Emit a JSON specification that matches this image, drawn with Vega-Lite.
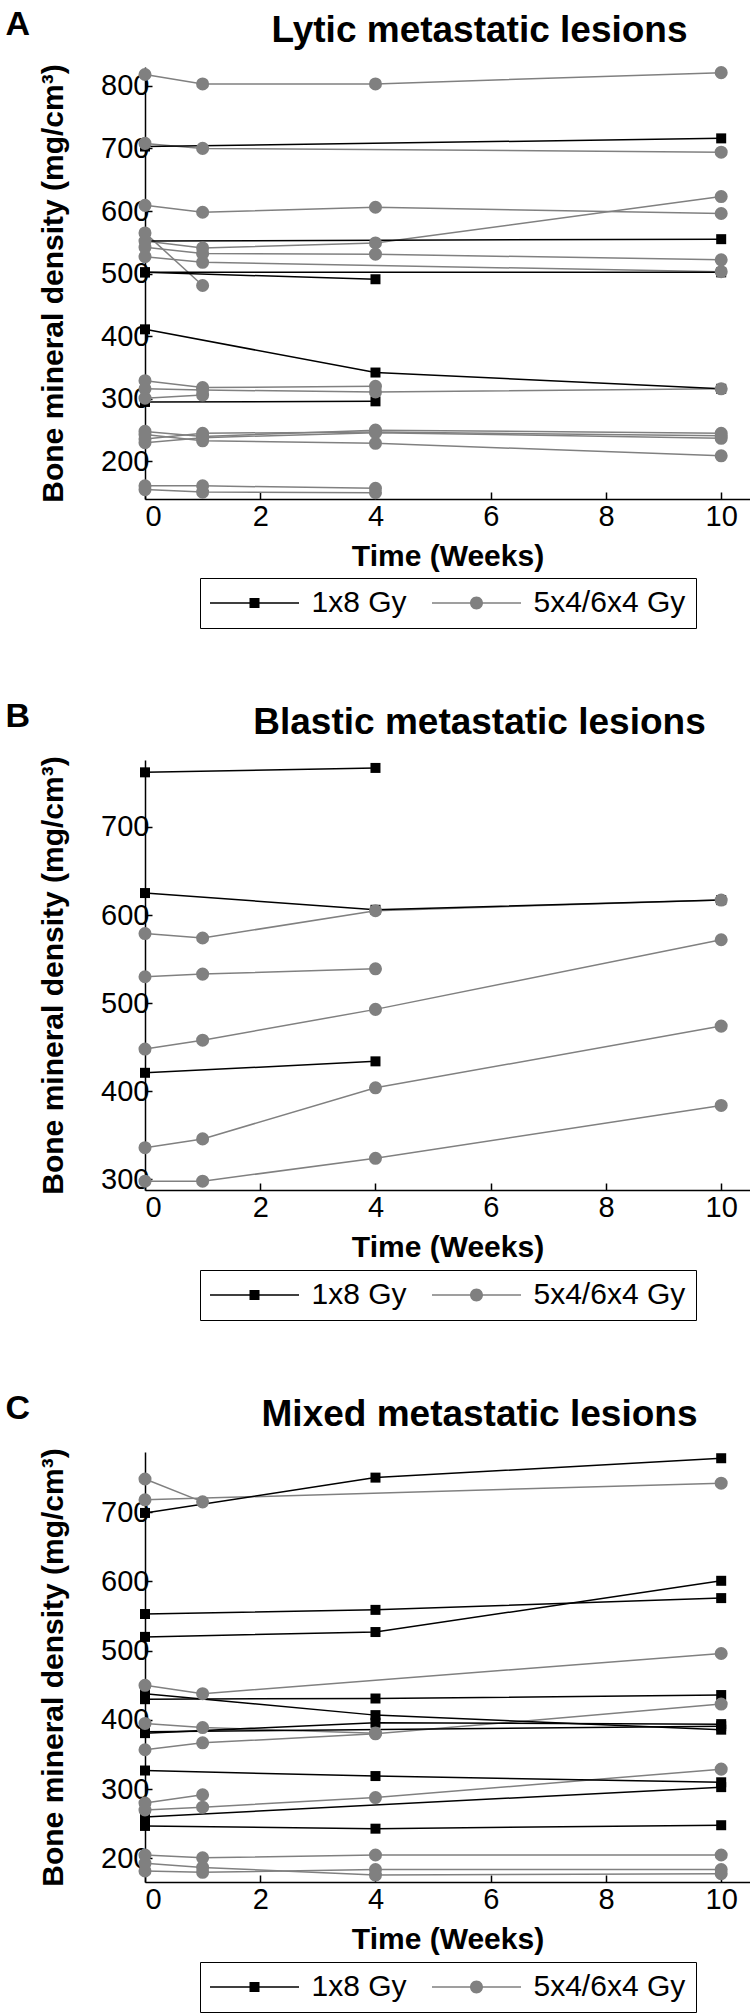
{
  "$schema": "https://vega.github.io/schema/vega-lite/v6.json",
  "padding": {"left": 5, "top": 7, "right": 0, "bottom": 0},
  "background": "white",
  "datasets": {
    "lytic": [
      {"id":"A2","g":"1x8 Gy","t":0,"v":703},{"id":"A2","g":"1x8 Gy","t":10,"v":716},
      {"id":"A9","g":"1x8 Gy","t":0,"v":552},{"id":"A9","g":"1x8 Gy","t":10,"v":555},
      {"id":"A10","g":"1x8 Gy","t":0,"v":502},{"id":"A10","g":"1x8 Gy","t":4,"v":491},
      {"id":"A11","g":"1x8 Gy","t":0,"v":502},{"id":"A11","g":"1x8 Gy","t":10,"v":502},
      {"id":"A12","g":"1x8 Gy","t":0,"v":411},{"id":"A12","g":"1x8 Gy","t":4,"v":342},{"id":"A12","g":"1x8 Gy","t":10,"v":316},
      {"id":"A16","g":"1x8 Gy","t":0,"v":295},{"id":"A16","g":"1x8 Gy","t":4,"v":296},
      {"id":"A1","g":"5x4/6x4 Gy","t":0,"v":818},{"id":"A1","g":"5x4/6x4 Gy","t":1,"v":803},{"id":"A1","g":"5x4/6x4 Gy","t":4,"v":803},{"id":"A1","g":"5x4/6x4 Gy","t":10,"v":821},
      {"id":"A3","g":"5x4/6x4 Gy","t":0,"v":708},{"id":"A3","g":"5x4/6x4 Gy","t":1,"v":700},{"id":"A3","g":"5x4/6x4 Gy","t":10,"v":694},
      {"id":"A4","g":"5x4/6x4 Gy","t":0,"v":609},{"id":"A4","g":"5x4/6x4 Gy","t":1,"v":598},{"id":"A4","g":"5x4/6x4 Gy","t":4,"v":606},{"id":"A4","g":"5x4/6x4 Gy","t":10,"v":596},
      {"id":"A5","g":"5x4/6x4 Gy","t":0,"v":565},{"id":"A5","g":"5x4/6x4 Gy","t":1,"v":481},
      {"id":"A6","g":"5x4/6x4 Gy","t":0,"v":552},{"id":"A6","g":"5x4/6x4 Gy","t":1,"v":541},{"id":"A6","g":"5x4/6x4 Gy","t":4,"v":549},{"id":"A6","g":"5x4/6x4 Gy","t":10,"v":623},
      {"id":"A7","g":"5x4/6x4 Gy","t":0,"v":542},{"id":"A7","g":"5x4/6x4 Gy","t":1,"v":532},{"id":"A7","g":"5x4/6x4 Gy","t":4,"v":531},{"id":"A7","g":"5x4/6x4 Gy","t":10,"v":522},
      {"id":"A8","g":"5x4/6x4 Gy","t":0,"v":527},{"id":"A8","g":"5x4/6x4 Gy","t":1,"v":518},{"id":"A8","g":"5x4/6x4 Gy","t":10,"v":503},
      {"id":"A13","g":"5x4/6x4 Gy","t":0,"v":329},{"id":"A13","g":"5x4/6x4 Gy","t":1,"v":318},{"id":"A13","g":"5x4/6x4 Gy","t":4,"v":320},
      {"id":"A14","g":"5x4/6x4 Gy","t":0,"v":316},{"id":"A14","g":"5x4/6x4 Gy","t":1,"v":314},{"id":"A14","g":"5x4/6x4 Gy","t":4,"v":311},{"id":"A14","g":"5x4/6x4 Gy","t":10,"v":316},
      {"id":"A15","g":"5x4/6x4 Gy","t":0,"v":301},{"id":"A15","g":"5x4/6x4 Gy","t":1,"v":306},
      {"id":"A17","g":"5x4/6x4 Gy","t":0,"v":248},{"id":"A17","g":"5x4/6x4 Gy","t":1,"v":240},{"id":"A17","g":"5x4/6x4 Gy","t":4,"v":250},{"id":"A17","g":"5x4/6x4 Gy","t":10,"v":245},
      {"id":"A18","g":"5x4/6x4 Gy","t":0,"v":236},{"id":"A18","g":"5x4/6x4 Gy","t":1,"v":245},{"id":"A18","g":"5x4/6x4 Gy","t":4,"v":247},{"id":"A18","g":"5x4/6x4 Gy","t":10,"v":241},
      {"id":"A19","g":"5x4/6x4 Gy","t":0,"v":230},{"id":"A19","g":"5x4/6x4 Gy","t":1,"v":238},{"id":"A19","g":"5x4/6x4 Gy","t":4,"v":246},{"id":"A19","g":"5x4/6x4 Gy","t":10,"v":237},
      {"id":"A20","g":"5x4/6x4 Gy","t":0,"v":243},{"id":"A20","g":"5x4/6x4 Gy","t":1,"v":233},{"id":"A20","g":"5x4/6x4 Gy","t":4,"v":229},{"id":"A20","g":"5x4/6x4 Gy","t":10,"v":209},
      {"id":"A21","g":"5x4/6x4 Gy","t":0,"v":161},{"id":"A21","g":"5x4/6x4 Gy","t":1,"v":161},{"id":"A21","g":"5x4/6x4 Gy","t":4,"v":157},
      {"id":"A22","g":"5x4/6x4 Gy","t":0,"v":155},{"id":"A22","g":"5x4/6x4 Gy","t":1,"v":151},{"id":"A22","g":"5x4/6x4 Gy","t":4,"v":150}
    ],
    "blastic": [
      {"id":"B1","g":"1x8 Gy","t":0,"v":762},{"id":"B1","g":"1x8 Gy","t":4,"v":767},
      {"id":"B2","g":"1x8 Gy","t":0,"v":625},{"id":"B2","g":"1x8 Gy","t":4,"v":606},{"id":"B2","g":"1x8 Gy","t":10,"v":617},
      {"id":"B6","g":"1x8 Gy","t":0,"v":421},{"id":"B6","g":"1x8 Gy","t":4,"v":434},
      {"id":"B3","g":"5x4/6x4 Gy","t":0,"v":579},{"id":"B3","g":"5x4/6x4 Gy","t":1,"v":574},{"id":"B3","g":"5x4/6x4 Gy","t":4,"v":605},{"id":"B3","g":"5x4/6x4 Gy","t":10,"v":617},
      {"id":"B4","g":"5x4/6x4 Gy","t":0,"v":530},{"id":"B4","g":"5x4/6x4 Gy","t":1,"v":533},{"id":"B4","g":"5x4/6x4 Gy","t":4,"v":539},
      {"id":"B5","g":"5x4/6x4 Gy","t":0,"v":448},{"id":"B5","g":"5x4/6x4 Gy","t":1,"v":458},{"id":"B5","g":"5x4/6x4 Gy","t":4,"v":493},{"id":"B5","g":"5x4/6x4 Gy","t":10,"v":572},
      {"id":"B7","g":"5x4/6x4 Gy","t":0,"v":336},{"id":"B7","g":"5x4/6x4 Gy","t":1,"v":346},{"id":"B7","g":"5x4/6x4 Gy","t":4,"v":404},{"id":"B7","g":"5x4/6x4 Gy","t":10,"v":474},
      {"id":"B8","g":"5x4/6x4 Gy","t":0,"v":298},{"id":"B8","g":"5x4/6x4 Gy","t":1,"v":298},{"id":"B8","g":"5x4/6x4 Gy","t":4,"v":324},{"id":"B8","g":"5x4/6x4 Gy","t":10,"v":384}
    ],
    "mixed": [
      {"id":"C1","g":"1x8 Gy","t":0,"v":699},{"id":"C1","g":"1x8 Gy","t":4,"v":750},{"id":"C1","g":"1x8 Gy","t":10,"v":778},
      {"id":"C4","g":"1x8 Gy","t":0,"v":553},{"id":"C4","g":"1x8 Gy","t":4,"v":559},{"id":"C4","g":"1x8 Gy","t":10,"v":576},
      {"id":"C5","g":"1x8 Gy","t":0,"v":520},{"id":"C5","g":"1x8 Gy","t":4,"v":527},{"id":"C5","g":"1x8 Gy","t":10,"v":601},
      {"id":"C7","g":"1x8 Gy","t":0,"v":438},{"id":"C7","g":"1x8 Gy","t":4,"v":407},{"id":"C7","g":"1x8 Gy","t":10,"v":386},
      {"id":"C8","g":"1x8 Gy","t":0,"v":430},{"id":"C8","g":"1x8 Gy","t":4,"v":431},{"id":"C8","g":"1x8 Gy","t":10,"v":436},
      {"id":"C9","g":"1x8 Gy","t":0,"v":381},{"id":"C9","g":"1x8 Gy","t":4,"v":396},{"id":"C9","g":"1x8 Gy","t":10,"v":394},
      {"id":"C10","g":"1x8 Gy","t":0,"v":383},{"id":"C10","g":"1x8 Gy","t":10,"v":391},
      {"id":"C13","g":"1x8 Gy","t":0,"v":327},{"id":"C13","g":"1x8 Gy","t":4,"v":319},{"id":"C13","g":"1x8 Gy","t":10,"v":310},
      {"id":"C14","g":"1x8 Gy","t":0,"v":260},{"id":"C14","g":"1x8 Gy","t":10,"v":303},
      {"id":"C15","g":"1x8 Gy","t":0,"v":247},{"id":"C15","g":"1x8 Gy","t":4,"v":243},{"id":"C15","g":"1x8 Gy","t":10,"v":248},
      {"id":"C2","g":"5x4/6x4 Gy","t":0,"v":748},{"id":"C2","g":"5x4/6x4 Gy","t":1,"v":715},
      {"id":"C3","g":"5x4/6x4 Gy","t":0,"v":718},{"id":"C3","g":"5x4/6x4 Gy","t":10,"v":742},
      {"id":"C6","g":"5x4/6x4 Gy","t":0,"v":450},{"id":"C6","g":"5x4/6x4 Gy","t":1,"v":438},{"id":"C6","g":"5x4/6x4 Gy","t":10,"v":496},
      {"id":"C11","g":"5x4/6x4 Gy","t":0,"v":395},{"id":"C11","g":"5x4/6x4 Gy","t":1,"v":389},{"id":"C11","g":"5x4/6x4 Gy","t":4,"v":381},
      {"id":"C12","g":"5x4/6x4 Gy","t":0,"v":357},{"id":"C12","g":"5x4/6x4 Gy","t":1,"v":367},{"id":"C12","g":"5x4/6x4 Gy","t":4,"v":380},{"id":"C12","g":"5x4/6x4 Gy","t":10,"v":423},
      {"id":"C16","g":"5x4/6x4 Gy","t":0,"v":280},{"id":"C16","g":"5x4/6x4 Gy","t":1,"v":292},
      {"id":"C17","g":"5x4/6x4 Gy","t":0,"v":270},{"id":"C17","g":"5x4/6x4 Gy","t":1,"v":274},{"id":"C17","g":"5x4/6x4 Gy","t":4,"v":288},{"id":"C17","g":"5x4/6x4 Gy","t":10,"v":329},
      {"id":"C18","g":"5x4/6x4 Gy","t":0,"v":205},{"id":"C18","g":"5x4/6x4 Gy","t":1,"v":201},{"id":"C18","g":"5x4/6x4 Gy","t":4,"v":205},{"id":"C18","g":"5x4/6x4 Gy","t":10,"v":205},
      {"id":"C19","g":"5x4/6x4 Gy","t":0,"v":193},{"id":"C19","g":"5x4/6x4 Gy","t":1,"v":187},{"id":"C19","g":"5x4/6x4 Gy","t":4,"v":176},{"id":"C19","g":"5x4/6x4 Gy","t":10,"v":178},
      {"id":"C20","g":"5x4/6x4 Gy","t":0,"v":182},{"id":"C20","g":"5x4/6x4 Gy","t":1,"v":180},{"id":"C20","g":"5x4/6x4 Gy","t":4,"v":184},{"id":"C20","g":"5x4/6x4 Gy","t":10,"v":184}
    ]
  },
  "spacing": 70,
  "resolve": {"scale": {"x": "independent", "y": "independent", "color": "independent", "shape": "independent"}, "legend": {"color": "independent"}},
  "vconcat": [
    {
      "title": {"text": "A", "anchor": "start", "frame": "bounds", "fontSize": 34, "fontWeight": "bold", "font": "Liberation Sans", "color": "black", "offset": -30, "dx": -33},
      "vconcat": [
        {
          "width": 605, "height": 432,
          "title": {"text": "Lytic metastatic lesions", "fontSize": 37, "fontWeight": "bold", "font": "Liberation Sans", "color": "black", "dx": 32, "offset": 14},
          "data": {"name": "lytic"},
          "encoding": {
            "x": {"field": "t", "type": "quantitative", "scale": {"domain": [0, 10.5], "nice": false}, "axis": {"values": [0, 2, 4, 6, 8, 10], "title": "Time (Weeks)"}},
            "y": {"field": "v", "type": "quantitative", "scale": {"domain": [140, 830], "nice": false, "zero": false}, "axis": {"values": [200, 300, 400, 500, 600, 700, 800], "title": "Bone mineral density (mg/cm³)"}}
          },
          "layer": [
            {"transform": [{"filter": "datum.g !== '1x8 Gy'"}], "mark": {"type": "line", "strokeWidth": 1.5, "color": "#808080"}, "encoding": {"detail": {"field": "id"}}},
            {"transform": [{"filter": "datum.g === '1x8 Gy'"}], "mark": {"type": "line", "strokeWidth": 1.5, "color": "#000000"}, "encoding": {"detail": {"field": "id"}}},
            {"transform": [{"filter": "datum.g === '1x8 Gy'"}], "mark": {"type": "point", "shape": "square", "size": 100, "filled": true, "opacity": 1, "color": "#000000"}},
            {"transform": [{"filter": "datum.g !== '1x8 Gy'"}], "mark": {"type": "point", "shape": "circle", "size": 170, "filled": true, "opacity": 1, "color": "#808080"}},
            {"mark": {"type": "point", "filled": true, "opacity": 0}, "encoding": {
              "color": {"field": "g", "type": "nominal", "scale": {"domain": ["1x8 Gy", "5x4/6x4 Gy"], "range": ["#000000", "#808080"]}, "legend": {"orient": "none", "legendX": 55, "legendY": 511, "direction": "horizontal", "title": null, "strokeColor": "black", "fillColor": "white", "padding": 10, "symbolSize": 400, "symbolStrokeWidth": 0, "symbolOffset": 29.5, "labelOffset": 42, "labelFont": "Liberation Sans", "labelFontSize": 30, "labelColor": "black", "columnPadding": 25, "symbolOpacity": 1}},
              "shape": {"field": "g", "type": "nominal", "scale": {"domain": ["1x8 Gy", "5x4/6x4 Gy"], "range": ["M-4.45,-0.075H4.45V0.075H-4.45ZM-0.5,-0.5H0.5V0.5H-0.5Z", "M-4.45,-0.075H4.45V0.075H-4.45ZM0.65,0A0.65,0.65,0,1,1,-0.65,0A0.65,0.65,0,1,1,0.65,0Z"]}, "legend": null}}}
          ]
        }
      ]
    },
    {
      "title": {"text": "B", "anchor": "start", "frame": "bounds", "fontSize": 34, "fontWeight": "bold", "font": "Liberation Sans", "color": "black", "offset": -30, "dx": -33},
      "vconcat": [
        {
          "width": 605, "height": 430,
          "title": {"text": "Blastic metastatic lesions", "fontSize": 37, "fontWeight": "bold", "font": "Liberation Sans", "color": "black", "dx": 32, "offset": 14},
          "data": {"name": "blastic"},
          "encoding": {
            "x": {"field": "t", "type": "quantitative", "scale": {"domain": [0, 10.5], "nice": false}, "axis": {"values": [0, 2, 4, 6, 8, 10], "title": "Time (Weeks)"}},
            "y": {"field": "v", "type": "quantitative", "scale": {"domain": [288, 776], "nice": false, "zero": false}, "axis": {"values": [300, 400, 500, 600, 700], "title": "Bone mineral density (mg/cm³)"}}
          },
          "layer": [
            {"transform": [{"filter": "datum.g !== '1x8 Gy'"}], "mark": {"type": "line", "strokeWidth": 1.5, "color": "#808080"}, "encoding": {"detail": {"field": "id"}}},
            {"transform": [{"filter": "datum.g === '1x8 Gy'"}], "mark": {"type": "line", "strokeWidth": 1.5, "color": "#000000"}, "encoding": {"detail": {"field": "id"}}},
            {"transform": [{"filter": "datum.g === '1x8 Gy'"}], "mark": {"type": "point", "shape": "square", "size": 100, "filled": true, "opacity": 1, "color": "#000000"}},
            {"transform": [{"filter": "datum.g !== '1x8 Gy'"}], "mark": {"type": "point", "shape": "circle", "size": 170, "filled": true, "opacity": 1, "color": "#808080"}},
            {"mark": {"type": "point", "filled": true, "opacity": 0}, "encoding": {
              "color": {"field": "g", "type": "nominal", "scale": {"domain": ["1x8 Gy", "5x4/6x4 Gy"], "range": ["#000000", "#808080"]}, "legend": {"orient": "none", "legendX": 55, "legendY": 510, "direction": "horizontal", "title": null, "strokeColor": "black", "fillColor": "white", "padding": 10, "symbolSize": 400, "symbolStrokeWidth": 0, "symbolOffset": 29.5, "labelOffset": 42, "labelFont": "Liberation Sans", "labelFontSize": 30, "labelColor": "black", "columnPadding": 25, "symbolOpacity": 1}},
              "shape": {"field": "g", "type": "nominal", "scale": {"domain": ["1x8 Gy", "5x4/6x4 Gy"], "range": ["M-4.45,-0.075H4.45V0.075H-4.45ZM-0.5,-0.5H0.5V0.5H-0.5Z", "M-4.45,-0.075H4.45V0.075H-4.45ZM0.65,0A0.65,0.65,0,1,1,-0.65,0A0.65,0.65,0,1,1,0.65,0Z"]}, "legend": null}}}
          ]
        }
      ]
    },
    {
      "title": {"text": "C", "anchor": "start", "frame": "bounds", "fontSize": 34, "fontWeight": "bold", "font": "Liberation Sans", "color": "black", "offset": -30, "dx": -33},
      "vconcat": [
        {
          "width": 605, "height": 430,
          "title": {"text": "Mixed metastatic lesions", "fontSize": 37, "fontWeight": "bold", "font": "Liberation Sans", "color": "black", "dx": 32, "offset": 14},
          "data": {"name": "mixed"},
          "encoding": {
            "x": {"field": "t", "type": "quantitative", "scale": {"domain": [0, 10.5], "nice": false}, "axis": {"values": [0, 2, 4, 6, 8, 10], "title": "Time (Weeks)"}},
            "y": {"field": "v", "type": "quantitative", "scale": {"domain": [166, 787], "nice": false, "zero": false}, "axis": {"values": [200, 300, 400, 500, 600, 700], "title": "Bone mineral density (mg/cm³)"}}
          },
          "layer": [
            {"transform": [{"filter": "datum.g !== '1x8 Gy'"}], "mark": {"type": "line", "strokeWidth": 1.5, "color": "#808080"}, "encoding": {"detail": {"field": "id"}}},
            {"transform": [{"filter": "datum.g === '1x8 Gy'"}], "mark": {"type": "line", "strokeWidth": 1.5, "color": "#000000"}, "encoding": {"detail": {"field": "id"}}},
            {"transform": [{"filter": "datum.g === '1x8 Gy'"}], "mark": {"type": "point", "shape": "square", "size": 100, "filled": true, "opacity": 1, "color": "#000000"}},
            {"transform": [{"filter": "datum.g !== '1x8 Gy'"}], "mark": {"type": "point", "shape": "circle", "size": 170, "filled": true, "opacity": 1, "color": "#808080"}},
            {"mark": {"type": "point", "filled": true, "opacity": 0}, "encoding": {
              "color": {"field": "g", "type": "nominal", "scale": {"domain": ["1x8 Gy", "5x4/6x4 Gy"], "range": ["#000000", "#808080"]}, "legend": {"orient": "none", "legendX": 55, "legendY": 510, "direction": "horizontal", "title": null, "strokeColor": "black", "fillColor": "white", "padding": 10, "symbolSize": 400, "symbolStrokeWidth": 0, "symbolOffset": 29.5, "labelOffset": 42, "labelFont": "Liberation Sans", "labelFontSize": 30, "labelColor": "black", "columnPadding": 25, "symbolOpacity": 1}},
              "shape": {"field": "g", "type": "nominal", "scale": {"domain": ["1x8 Gy", "5x4/6x4 Gy"], "range": ["M-4.45,-0.075H4.45V0.075H-4.45ZM-0.5,-0.5H0.5V0.5H-0.5Z", "M-4.45,-0.075H4.45V0.075H-4.45ZM0.65,0A0.65,0.65,0,1,1,-0.65,0A0.65,0.65,0,1,1,0.65,0Z"]}, "legend": null}}}
          ]
        }
      ]
    }
  ],
  "config": {
    "view": {"stroke": null},
    "font": "Liberation Sans",
    "axis": {"grid": false, "labelFont": "Liberation Sans", "titleFont": "Liberation Sans", "labelColor": "black", "titleColor": "black", "domainColor": "black", "tickColor": "black", "labelFontSize": 29, "titleFontSize": 30, "titleFontWeight": "bold", "domainWidth": 1.5, "tickWidth": 1.5, "tickSize": -7},
    "axisY": {"titlePadding": 32, "labelPadding": 3},
    "axisX": {"titlePadding": 10, "labelPadding": 10}
  }
}
